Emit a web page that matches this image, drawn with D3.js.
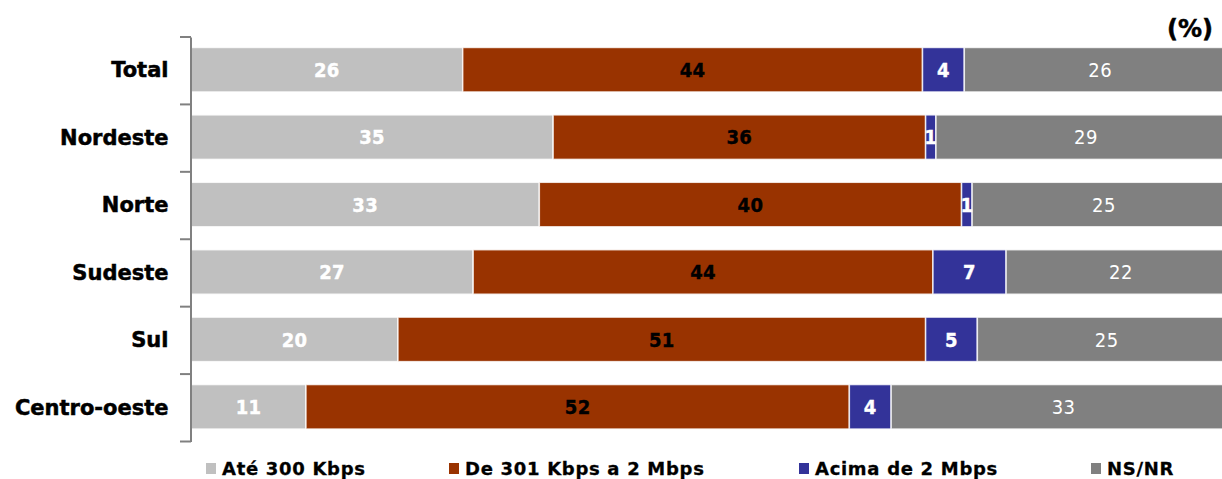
<!DOCTYPE html>
<html>
<head>
<meta charset="utf-8">
<script src="https://cdn.jsdelivr.net/npm/d3@7"></script>
<style>
  html, body { margin: 0; padding: 0; background: #fff; }
  svg { display: block; }
</style>
</head>
<body>
<svg id="chart" width="1222" height="479"></svg>
<script>
// Internet connection speed by region (%)
const regions = ["Total", "Nordeste", "Norte", "Sudeste", "Sul", "Centro-oeste"];
const seriesNames = ["Até 300 Kbps", "De 301 Kbps a 2 Mbps", "Acima de 2 Mbps", "NS/NR"];
const ate300 = [26, 35, 33, 27, 20, 11];
const de301a2 = [44, 36, 40, 44, 51, 52];
const acima2 = [4, 1, 1, 7, 5, 4];
const nsnr = [26, 29, 25, 22, 25, 33];

const colors = ["#C0C0C0", "#993300", "#333399", "#808080"];
const labelColors = ["#ffffff", "#000000", "#ffffff", "#ffffff"];
const labelWeights = ["bold", "bold", "bold", "normal"];

const rows = regions.map((r, i) => ({
  region: r,
  [seriesNames[0]]: ate300[i],
  [seriesNames[1]]: de301a2[i],
  [seriesNames[2]]: acima2[i],
  [seriesNames[3]]: nsnr[i]
}));

const stacked = d3.stack().keys(seriesNames).offset(d3.stackOffsetExpand)(rows);

const svg = d3.select("#chart");
const font = "'DejaVu Sans', sans-serif";
const condensed = "'DejaVu Sans Condensed', 'DejaVu Sans', sans-serif";

const x = d3.scaleLinear().domain([0, 1]).range([191, 1236]);
const y = d3.scaleBand().domain(regions).range([37, 441.5]).paddingInner(0.34).paddingOuter(0.17);

// bars
const groups = svg.append("g").selectAll("g")
  .data(stacked)
  .join("g")
  .attr("fill", (d, i) => colors[i]);

groups.selectAll("rect")
  .data(d => d)
  .join("rect")
  .attr("x", d => x(d[0]))
  .attr("y", d => y(d.data.region) - 1)
  .attr("width", d => x(d[1]) - x(d[0]))
  .attr("height", y.bandwidth())
  .attr("stroke", "#ffffff")
  .attr("stroke-opacity", 0.8)
  .attr("stroke-width", 1.5);

// segment value labels
stacked.forEach((s, si) => {
  svg.append("g").selectAll("text")
    .data(s)
    .join("text")
    .attr("x", d => (x(d[0]) + x(d[1])) / 2)
    .attr("y", d => y(d.data.region) - 1 + y.bandwidth() / 2)
    .attr("dy", "0.36em")
    .attr("text-anchor", "middle")
    .attr("font-family", condensed)
    .attr("font-size", 20)
    .attr("font-weight", labelWeights[si])
    .attr("letter-spacing", si === 3 ? "0.5px" : "0.3px")
    .attr("fill", labelColors[si])
    .attr("stroke", si === 3 ? "none" : labelColors[si])
    .attr("stroke-width", 0.4)
    .text(d => d.data[s.key]);
});

// category axis
const axis = d3.axisLeft(y).tickSize(0).tickPadding(22).tickSizeOuter(0);
const ag = svg.append("g").attr("transform", "translate(190.5,0)").call(axis);
ag.select(".domain").attr("stroke", "#808080").attr("stroke-width", 2);
ag.selectAll(".tick text")
  .attr("font-family", font)
  .attr("font-size", 21)
  .attr("font-weight", "bold")
  .attr("fill", "#000")
  .attr("stroke", "#000")
  .attr("stroke-width", 0.5);

// tick marks between categories
const boundaries = [y.range()[0]].concat(regions.map(r => y(r) + y.bandwidth() + y.step() * y.paddingInner() / 2))
  .slice(0, regions.length);
boundaries.push(y.range()[1]);
svg.append("g").selectAll("line")
  .data(boundaries)
  .join("line")
  .attr("x1", 180).attr("x2", 191)
  .attr("y1", d => d).attr("y2", d => d)
  .attr("stroke", "#808080")
  .attr("stroke-width", 2);

// unit note
svg.append("text")
  .attr("x", 1213).attr("y", 37)
  .attr("text-anchor", "end")
  .attr("font-family", font)
  .attr("font-size", 24)
  .attr("font-weight", "bold")
  .attr("stroke", "#000")
  .attr("stroke-width", 0.5)
  .text("(%)");

// legend
const legendX = [206, 449, 799, 1091];
const lg = svg.append("g").selectAll("g")
  .data(seriesNames)
  .join("g")
  .attr("transform", (d, i) => `translate(${legendX[i]},463)`);
lg.append("rect").attr("width", 10).attr("height", 11).attr("fill", (d, i) => colors[i]);
lg.append("text")
  .attr("x", 16).attr("y", 12)
  .attr("font-family", font)
  .attr("font-size", 18)
  .attr("font-weight", "bold")
  .attr("letter-spacing", "0.7px")
  .attr("stroke", "#000")
  .attr("stroke-width", 0.3)
  .text(d => d);
</script>
</body>
</html>
